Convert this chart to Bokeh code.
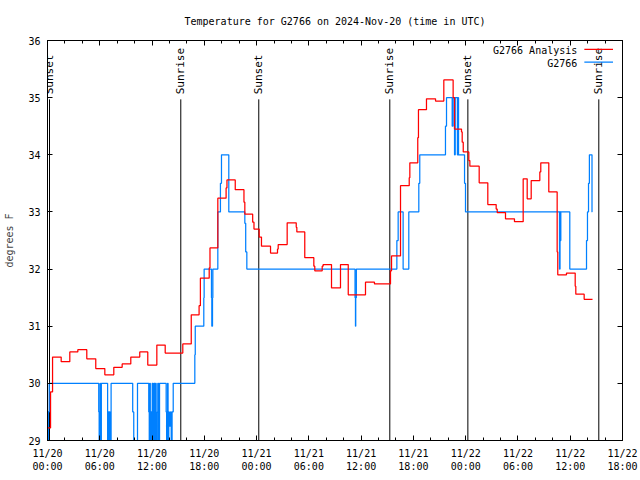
from math import pi
from bokeh.plotting import figure
from bokeh.models import Range1d, FixedTicker, LinearAxis, Label
from bokeh.embed import file_html
from bokeh.resources import INLINE
from bokeh.core.properties import value

FONT = "DejaVu Sans Mono"

# ---------------- data ----------------
# hours since 2024-11-20 00:00 UTC
x_ticks = [0, 6, 12, 18, 24, 30, 36, 42, 48, 54, 60, 66]
x_tick_labels = ["11/20\n00:00", "11/20\n06:00", "11/20\n12:00", "11/20\n18:00",
                 "11/21\n00:00", "11/21\n06:00", "11/21\n12:00", "11/21\n18:00",
                 "11/22\n00:00", "11/22\n06:00", "11/22\n12:00", "11/22\n18:00"]
y_ticks = [29, 30, 31, 32, 33, 34, 35, 36]

# G2766 Analysis (red)
red_hours = [0.0, 0.35, 0.58, 1.57, 2.56, 3.48, 4.51, 5.54, 6.58, 7.61, 8.57, 9.56,
             10.59, 11.51, 12.55, 13.51, 15.53, 16.5, 17.4, 17.55, 18.56, 18.65,
             19.55, 20.5, 20.6, 21.55, 22.55, 22.65, 23.55, 23.7, 24.3, 24.56,
             25.6, 26.4, 26.48, 27.51, 28.55, 28.62, 29.53, 30.57, 30.68, 31.53,
             31.64, 32.6, 33.63, 34.52, 36.5, 37.53, 39.37, 39.49, 40.52, 41.52,
             41.59, 42.5, 42.58, 43.5, 44.54, 45.49, 46.56, 46.72, 47.52, 47.6,
             47.72, 48.36, 48.48, 49.55, 50.54, 51.5, 51.62, 52.57, 53.6, 54.6,
             55.06, 55.52, 56.51, 56.62, 57.54, 58.5, 58.57, 59.57, 60.57, 60.64,
             61.6, 62.56]
red_temps = [29.22, 29.85, 30.46, 30.38, 30.55, 30.59, 30.43, 30.26, 30.15, 30.28, 30.34, 30.46,
             30.55, 30.32, 30.67, 30.53, 30.69, 31.2, 31.36, 31.84, 32.02, 32.37,
             33.24, 33.42, 33.56, 33.39, 33.17, 32.96, 32.82, 32.7, 32.56, 32.4,
             32.28, 32.35, 32.43, 32.81, 32.73, 32.65, 32.2, 32.05, 31.97, 32.05,
             32.08, 31.67, 32.08, 31.55, 31.77, 31.74, 31.97, 32.23, 33.46, 33.6,
             33.86, 34.3, 34.79, 34.98, 34.94, 35.31, 35.0, 34.45, 34.4, 34.22,
             34.05, 33.9, 33.8, 33.51, 33.13, 33.05, 32.99, 32.88, 32.83, 33.58,
             33.23, 33.55, 33.7, 33.86, 33.35, 32.3, 31.9, 31.93, 31.7, 31.56,
             31.47, 31.47]

# G2766 observations (blue)
blue_hours = [0.0, 0.04, 0.1, 0.2, 5.88, 5.93, 6.04, 6.08, 6.18, 6.9, 6.95, 7.02, 7.1, 7.18, 7.3,
              9.78, 9.9, 10.33,
              11.62, 11.68, 11.74, 11.8, 11.87, 11.93, 12.02, 12.1, 12.2, 12.33, 12.4, 12.47,
              12.6, 12.66, 12.75, 12.86,
              13.62, 13.67, 13.78, 13.84, 13.92, 13.98, 14.12, 14.2, 14.3, 14.43,
              16.91, 16.96, 17.94, 17.98, 18.82, 18.86, 18.94, 18.98, 19.55, 19.85, 19.97,
              20.81, 22.65, 22.75, 22.88,
              35.3, 35.35, 35.38, 35.45,
              40.1, 40.25, 40.82, 41.47, 42.62, 42.73, 45.68, 45.8, 46.45, 46.55, 46.72,
              46.8, 47.05, 47.1, 47.18, 47.87, 47.98,
              58.77, 58.83, 58.86, 58.92, 59.95, 61.87, 61.98, 62.1, 62.2, 62.5, 62.52]
blue_temps = [29.5, 29.0, 29.5, 30.0, 29.5, 29.0, 30.0, 29.0, 30.0, 29.0, 29.5, 29.0, 29.5, 29.0, 30.0,
              29.5, 29.0, 30.0,
              29.5, 29.0, 30.0, 29.0, 29.5, 29.0, 30.0, 29.0, 30.0, 29.0, 30.0, 29.0,
              29.5, 30.0, 29.0, 30.0,
              29.5, 29.0, 30.0, 29.0, 29.5, 29.25, 29.5, 29.0, 29.5, 30.0,
              30.5, 31.0, 31.5, 32.0, 31.5, 31.0, 31.5, 32.0, 33.0, 33.5, 34.0,
              33.0, 32.8, 32.3, 32.0,
              31.5, 31.0, 31.5, 32.0,
              32.5, 33.0, 32.0, 33.0, 33.5, 34.0, 34.5, 35.0, 34.5, 35.0, 34.0,
              35.0, 34.0, 35.0, 34.0, 33.5, 33.0,
              32.0, 33.0, 32.5, 33.0, 32.0, 32.5, 33.0, 33.5, 34.0, 33.0, 33.0]

# sunrise / sunset markers
event_hours = [0.23, 15.3, 24.25, 39.29, 48.25, 63.28]
event_labels = ["Sunset", "Sunrise", "Sunset", "Sunrise", "Sunset", "Sunrise"]
event_bottom = [29.0] * len(event_hours)
event_top = [34.97] * len(event_hours)

series_names = ["G2766 Analysis", "G2766"]
RED = "#ff0000"
BLUE = "#0080ff"

# ---------------- figure ----------------
p = figure(width=640, height=480, x_range=Range1d(0, 66), y_range=Range1d(29, 36),
           output_backend="svg", toolbar_location=None,
           min_border_left=47, min_border_right=18, min_border_top=40, min_border_bottom=40,
           title="Temperature for G2766 on 2024-Nov-20 (time in UTC)")
p.title.text_font = FONT
p.title.text_font_size = "10px"
p.title.text_font_style = "normal"
p.title.align = "center"
p.title.text_color = "black"
p.title.standoff = 27
p.xgrid.visible = False
p.ygrid.visible = False
p.outline_line_color = "black"
p.outline_line_width = 1
p.background_fill_color = "white"
p.border_fill_color = "white"

xticker = FixedTicker(ticks=x_ticks, minor_ticks=list(range(0, 67, 2)))
yticker = FixedTicker(ticks=y_ticks, minor_ticks=[])


def style_axis(ax, ticks, labels=None, standoff=7):
    ax.axis_line_color = "black"
    ax.major_tick_line_color = "black"
    ax.minor_tick_line_color = "black"
    ax.major_tick_in = 5
    ax.major_tick_out = 0
    ax.minor_tick_in = 3
    ax.minor_tick_out = 0
    ax.major_label_text_font = FONT
    ax.major_label_text_color = "black"
    ax.major_label_text_font_size = "10px"
    ax.major_label_standoff = standoff
    if labels is not None:
        ax.major_label_overrides = {t: l for t, l in zip(ticks, labels)}
    else:
        ax.major_label_overrides = {t: "" for t in ticks}


xa = p.xaxis[0]
xa.ticker = xticker
style_axis(xa, x_ticks, x_tick_labels)
xa.major_label_text_line_height = 1.25

ya = p.yaxis[0]
ya.ticker = yticker
style_axis(ya, y_ticks, [str(t) for t in y_ticks])
ya.axis_label = "degrees F"
ya.axis_label_text_font = FONT
ya.axis_label_text_font_size = "10px"
ya.axis_label_text_font_style = "normal"
ya.axis_label_standoff = 10

top = LinearAxis(ticker=xticker)
style_axis(top, x_ticks, standoff=0)
p.add_layout(top, "above")
right = LinearAxis(ticker=yticker)
style_axis(right, y_ticks, standoff=0)
p.add_layout(right, "right")

# sunrise / sunset lines and labels
p.segment(x0=event_hours, y0=event_bottom, x1=event_hours, y1=event_top,
          line_color="black", line_width=1)
p.text(x=event_hours, y=event_top, text=event_labels, angle=pi / 2,
       text_align="left", text_baseline="middle", y_offset=-5,
       text_font=value(FONT), text_font_size="11px", text_color="black")

# series
p.step(blue_hours, blue_temps, mode="after", line_color=BLUE, line_width=1.25)
p.step(red_hours, red_temps, mode="after", line_color=RED, line_width=1.25)

# legend (top right, text then sample line)
leg_text_x = 60.81
leg_line_x0 = 61.62
leg_line_x1 = 64.91
leg_rows_y = [35.825, 35.60]
for name, color, yy in zip(series_names, [RED, BLUE], leg_rows_y):
    p.add_layout(Label(x=leg_text_x, y=yy, text=name, text_align="right",
                       text_baseline="middle", text_font=FONT, text_font_size="10px",
                       text_color="black"))
    p.line([leg_line_x0, leg_line_x1], [yy + 0.02, yy + 0.02], line_color=color, line_width=1.25)

open("out.html", "w").write(file_html(p, INLINE))
